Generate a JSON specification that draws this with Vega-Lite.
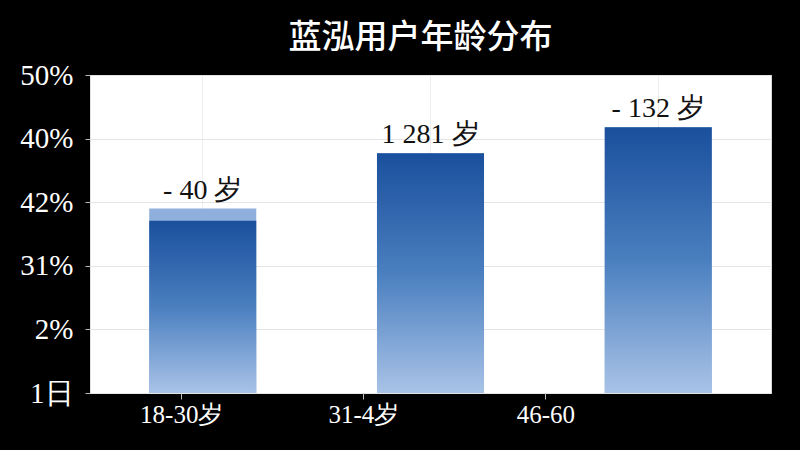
{
  "$schema": "https://vega.github.io/schema/vega-lite/v6.json",
  "autosize": "none",
  "width": 681,
  "height": 318,
  "padding": {"left": 90, "top": 75, "right": 29, "bottom": 57},
  "background": "#000000",
  "view": {"fill": "#ffffff", "stroke": "#d8d8d8", "strokeWidth": 1},
  "title": {
    "text": "蓝泓用户年龄分布",
    "color": "#ffffff",
    "font": "Noto Sans CJK SC",
    "fontSize": 33,
    "fontWeight": 500,
    "anchor": "middle",
    "offset": 6,
    "dx": -10
  },
  "data": {
    "values": [
      {"group": "18-30岁", "total": 29.0, "bar": 27.1, "label": "- 40 岁"},
      {"group": "31-4岁", "total": 37.7, "bar": 37.7, "label": "1 281 岁"},
      {"group": "46-60", "total": 41.8, "bar": 41.8, "label": "- 132 岁"}
    ]
  },
  "layer": [
    {
      "layer": [
        {
          "mark": {"type": "bar", "color": "#8fb0dc"},
          "encoding": {
            "x": {
              "field": "group", "type": "nominal", "sort": null,
              "scale": {"paddingInner": 0.53, "paddingOuter": 0.26},
              "axis": {"orient": "bottom", "title": null, "labels": false, "ticks": false, "domain": false, "grid": true, "gridColor": "#eeeeee", "gridWidth": 1}
            },
            "y": {
              "field": "total", "type": "quantitative",
              "scale": {"domain": [0, 50], "nice": false},
              "axis": {
                "title": null,
                "values": [0, 10, 20, 30, 40, 50],
                "labelExpr": "datum.value == 50 ? '50%' : datum.value == 40 ? '40%' : datum.value == 30 ? '42%' : datum.value == 20 ? '31%' : datum.value == 10 ? '2%' : '1日'",
                "labelFont": "Liberation Serif",
                "labelFontSize": 29,
                "labelColor": "#ffffff",
                "labelPadding": 12,
                "tickColor": "#bbbbbb",
                "tickSize": 5,
                "domainColor": "#e0e0e0",
                "gridColor": "#e4e4e4",
                "gridWidth": 1
              }
            }
          }
        },
        {
          "mark": {
            "type": "bar",
            "color": {
              "gradient": "linear", "x1": 0, "y1": 0, "x2": 0, "y2": 1,
              "stops": [
                {"offset": 0, "color": "#1a4f9d"},
                {"offset": 0.5, "color": "#4a7fbf"},
                {"offset": 1, "color": "#a9c3e7"}
              ]
            }
          },
          "encoding": {
            "x": {"field": "group", "type": "nominal", "sort": null},
            "y": {"field": "bar", "type": "quantitative"}
          }
        },
        {
          "mark": {"type": "text", "baseline": "alphabetic", "align": "center", "dy": -10, "font": "Liberation Serif", "fontSize": 28, "color": "#111111"},
          "encoding": {
            "x": {"field": "group", "type": "nominal", "sort": null},
            "y": {"field": "total", "type": "quantitative"},
            "text": {"field": "label"}
          }
        }
      ]
    },
    {
      "mark": {"type": "point", "opacity": 0},
      "encoding": {
        "x": {
          "field": "group", "type": "nominal", "sort": null,
          "scale": {"type": "band", "paddingInner": 0, "paddingOuter": 0.37, "align": 0.005},
          "axis": {
            "orient": "bottom", "title": null, "grid": false, "domain": false,
            "labelAngle": 0,
            "labelFont": "Liberation Serif", "labelFontSize": 25, "labelColor": "#ffffff",
            "labelPadding": 3,
            "tickColor": "#bbbbbb", "tickSize": 6
          }
        }
      }
    }
  ],
  "resolve": {"scale": {"x": "independent"}, "axis": {"x": "independent"}}
}
